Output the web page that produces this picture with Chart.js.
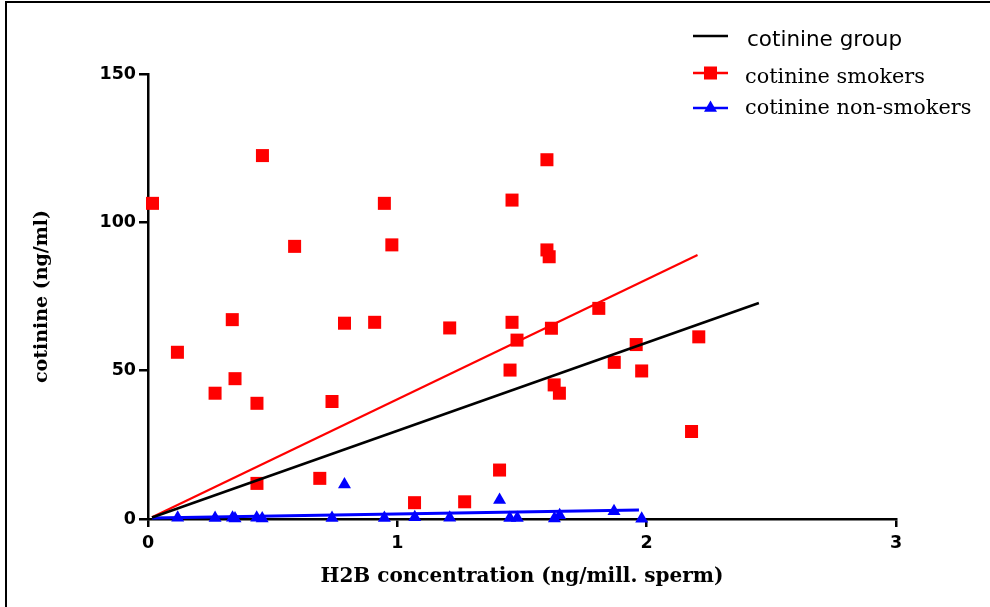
<!DOCTYPE html>
<html>
<head>
<meta charset="utf-8">
<script src="https://cdn.jsdelivr.net/npm/chart.js@4.4.1/dist/chart.umd.min.js"></script>
<style>
  html, body { margin: 0; padding: 0; background: #fff; }
  #wrap { position: relative; width: 990px; height: 607px; overflow: hidden; }
  #frame { position: absolute; left: 5px; top: 1px; width: 1000px; height: 620px; border-left: 2px solid #000; border-top: 2px solid #000; }
  #myChart { position: absolute; left: 0; top: 0; }
</style>
</head>
<body>
<div id="wrap">
  <div id="frame"></div>
  <canvas id="myChart" width="990" height="607"></canvas>
</div>
<script>
// smokers (red squares)
const smokersX = [0.018, 0.118, 0.269, 0.338, 0.349, 0.437, 0.459, 0.437, 0.588, 0.689, 0.738, 0.788, 0.909, 0.948, 0.978,
  1.069, 1.210, 1.270, 1.410, 1.452, 1.460, 1.460, 1.480, 1.600, 1.600, 1.609, 1.618, 1.629, 1.650, 1.808, 1.870, 1.958, 1.980, 2.180, 2.209];
const smokersY = [106.4, 56.2, 42.4, 67.2, 47.3, 39.0, 122.5, 12.0, 91.9, 13.7, 39.6, 66.0, 66.3, 106.4, 92.4,
  5.5, 64.4, 5.8, 16.5, 50.2, 107.5, 66.3, 60.3, 121.1, 90.7, 88.4, 64.3, 45.2, 42.4, 71.0, 52.8, 58.8, 49.9, 29.5, 61.4];

// non-smokers (blue triangles)
const nonSmokersX = [0.119, 0.269, 0.339, 0.349, 0.436, 0.458, 0.738, 0.788, 0.948, 1.070, 1.210, 1.410, 1.451, 1.481, 1.630, 1.651, 1.869, 1.980];
const nonSmokersY = [0.4, 0.3, 0.4, 0.2, 0.4, 0.2, 0.3, 11.6, 0.3, 0.6, 0.4, 6.4, 0.3, 0.3, 0.2, 1.3, 2.6, 0.1];

// fitted lines, end points
const groupFitX = [0.016, 2.45];
const groupFitY = [0.5, 72.8];
const smokersFitX = [0.016, 2.204];
const smokersFitY = [0.6, 89.0];
const nonSmokersFitX = [0.016, 1.969];
const nonSmokersFitY = [0.3, 3.0];

const xTicks = [0, 1, 2, 3];
const yTicks = [0, 50, 100, 150];

const legendLabels = ["cotinine group", "cotinine smokers", "cotinine non-smokers"];

function toPoints(xs, ys) {
  return xs.map((x, i) => ({ x: x, y: ys[i] }));
}

// legend drawn by hand: the first entry uses a sans font, the others a serif font
const sideLegend = {
  id: "sideLegend",
  afterDraw(chart) {
    const ctx = chart.ctx;
    const rows = [
      { y: 36, color: "#000", style: false, font: "21.5px 'DejaVu Sans'", textY: 46 },
      { y: 73, color: "#ff0000", style: "rect", radius: 9.2, font: "20.8px 'DejaVu Serif'", textY: 83 },
      { y: 108, color: "#0000ff", style: "triangle", radius: 7.5, font: "20.8px 'DejaVu Serif'", textY: 114 },
    ];
    ctx.save();
    rows.forEach((row, i) => {
      ctx.strokeStyle = row.color;
      ctx.lineWidth = 2.5;
      ctx.beginPath();
      ctx.moveTo(693, row.y);
      ctx.lineTo(728, row.y);
      ctx.stroke();
      if (row.style) {
        ctx.fillStyle = row.color;
        Chart.helpers.drawPoint(ctx, { pointStyle: row.style, radius: row.radius, rotation: 0, borderWidth: 0 }, 710.5, row.y);
      }
      ctx.fillStyle = "#000";
      ctx.font = row.font;
      ctx.textBaseline = "alphabetic";
      ctx.textAlign = "left";
      ctx.fillText(legendLabels[i], i === 0 ? 747 : 745, row.textY);
    });
    ctx.restore();
  },
};

let myChart = new Chart(document.getElementById("myChart"), {
  type: "scatter",
  data: {
    datasets: [
      {
        label: legendLabels[0],
        data: toPoints(groupFitX, groupFitY),
        showLine: true,
        borderColor: "#000",
        borderWidth: 2.6,
        pointRadius: 0,
        clip: false,
      },
      {
        label: legendLabels[1] + " fit",
        data: toPoints(smokersFitX, smokersFitY),
        showLine: true,
        borderColor: "#ff0000",
        borderWidth: 2.2,
        pointRadius: 0,
        clip: false,
      },
      {
        label: legendLabels[1],
        data: toPoints(smokersX, smokersY),
        pointStyle: "rect",
        pointRadius: 9.2,
        backgroundColor: "#ff0000",
        borderWidth: 0,
        clip: false,
      },
      {
        label: legendLabels[2],
        data: toPoints(nonSmokersX, nonSmokersY),
        pointStyle: "triangle",
        pointRadius: 7.5,
        backgroundColor: "#0000ff",
        borderWidth: 0,
        clip: false,
      },
      {
        label: legendLabels[2] + " fit",
        data: toPoints(nonSmokersFitX, nonSmokersFitY),
        showLine: true,
        borderColor: "#0000ff",
        borderWidth: 3,
        pointRadius: 0,
        clip: false,
      },
    ],
  },
  options: {
    responsive: false,
    animation: false,
    events: [],
    layout: { padding: { top: 74, right: 94, left: 0, bottom: 0 } },
    plugins: {
      legend: { display: false },
      tooltip: { enabled: false },
    },
    scales: {
      x: {
        type: "linear",
        min: xTicks[0],
        max: xTicks[xTicks.length - 1],
        afterBuildTicks(scale) {
          scale.ticks = xTicks.map((v) => ({ value: v }));
        },
        afterFit(scale) {
          scale.height = 88;
        },
        ticks: {
          color: "#000",
          padding: 6,
          font: { family: "DejaVu Sans", weight: "bold", size: 17.5 },
        },
        grid: { drawOnChartArea: false, drawTicks: true, tickLength: 8, lineWidth: 2.5, tickWidth: 2.5, color: "#000" },
        border: { display: true, color: "#000", width: 2.5 },
        title: {
          display: true,
          text: "H2B concentration (ng/mill. sperm)",
          color: "#000",
          font: { family: "DejaVu Serif", weight: "bold", size: 20 },
          padding: { top: 0, bottom: 18 },
        },
      },
      y: {
        type: "linear",
        min: yTicks[0],
        max: yTicks[yTicks.length - 1],
        afterBuildTicks(scale) {
          scale.ticks = yTicks.map((v) => ({ value: v }));
        },
        afterFit(scale) {
          scale.width = 148;
        },
        ticks: {
          color: "#000",
          padding: 3,
          font: { family: "DejaVu Sans", weight: "bold", size: 17.5 },
        },
        grid: { drawOnChartArea: false, drawTicks: true, tickLength: 9, lineWidth: 2.5, tickWidth: 2.5, color: "#000" },
        border: { display: true, color: "#000", width: 2.5 },
        title: {
          display: true,
          text: "cotinine (ng/ml)",
          color: "#000",
          font: { family: "DejaVu Serif", weight: "bold", size: 19 },
          padding: { top: 31, bottom: 0 },
        },
      },
    },
  },
  plugins: [sideLegend],
});
</script>
</body>
</html>
